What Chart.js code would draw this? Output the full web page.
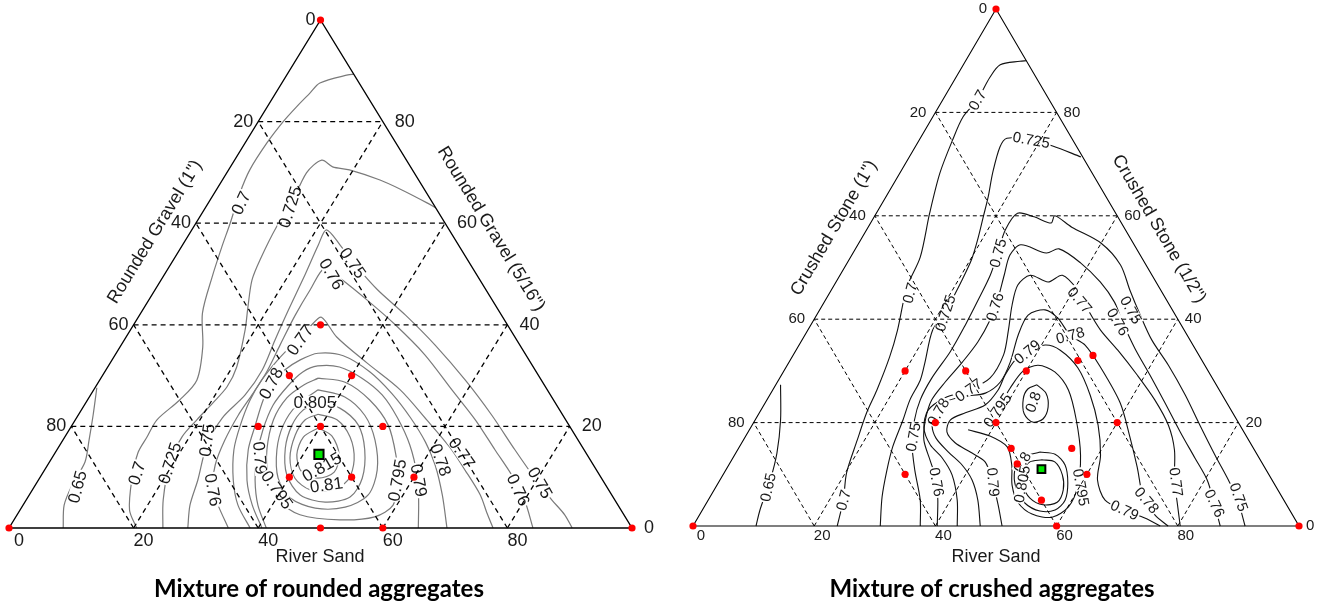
<!DOCTYPE html>
<html>
<head>
<meta charset="utf-8">
<script src="https://cdn.jsdelivr.net/npm/chart.js@4.4.0/dist/chart.umd.min.js"></script>
<style>
  html, body { margin: 0; padding: 0; background: #fff; }
  #wrap { position: relative; width: 1325px; height: 609px; overflow: hidden; }
  canvas { position: absolute; top: 0; }
</style>
</head>
<body>
<div id="wrap">
  <canvas id="rounded" width="662" height="609" style="left:0"></canvas>
  <canvas id="crushed" width="663" height="609" style="left:662px"></canvas>
</div>
<script>
// Ternary points are [River Sand %, top component %] (the third component is the rest)
const tickValues = [0, 20, 40, 60, 80];

// ---- Mixture of rounded aggregates ----
const roundedMixes = [[30, 40], [30, 30], [40, 30], [30, 20], [40, 20], [50, 20], [40, 10], [50, 10], [60, 10],
  [50, 0], [60, 0], [0, 100], [0, 0], [100, 0]];
const roundedOptimum = [[42.5, 14.5]];

const rounded065 = [[8.7, 0], [6.6, 4.5], [5.9, 8.5], [5.7, 13], [4.2, 17.3], [2.4, 22.2], [0.3, 27.6]];
const rounded070 = [[20.5, 0], [17.6, 3.5], [15, 9.4], [13.3, 14.8], [13.2, 17.9], [13.1, 21.3], [14.8, 25.2], [15.6, 29.1],
  [13.3, 35.6], [9.9, 42.3], [7.9, 49.4], [6.5, 55.3], [5.5, 60], [4.1, 65.9], [3.4, 70.5], [3.5, 75.8], [4, 79.9],
  [4.7, 82.9], [5.5, 85.6], [6.1, 87.6], [9.8, 89.2], [10.7, 89.3]];
const rounded0725 = [[24.7, 0], [22, 5.5], [19.4, 12.8], [18.8, 17.9], [19.5, 21.3], [20.4, 24.6], [21.1, 27.8], [20.7, 31.7],
  [18.4, 39], [16.6, 43.5], [14.6, 48.8], [13.9, 52.8], [13.3, 59.3], [13.5, 63.2], [12.8, 69.9], [14, 72.4], [16.4, 71.1],
  [19.4, 70.5], [25.3, 68.5], [29.9, 66.5], [35.1, 64], [37, 63]];
const rounded075 = [[28.7, 0], [26.8, 4.5], [25.6, 9.4], [23.6, 16.3], [23.4, 21.7], [24.8, 26.2], [25.1, 31.1], [24.2, 37],
  [23.4, 42.9], [22.6, 49.8], [21.8, 55.7], [21.6, 58.7], [25.3, 55.7], [30.4, 51.2], [35.7, 46.9], [42.7, 41.9],
  [50.4, 36], [58.7, 29.1], [66.4, 22.2], [73.5, 15.4], [79.5, 9.8], [84.4, 5.5], [87.9, 2.6], [90.4, 0]];
const rounded076 = [[35.2, 0], [31.3, 4.5], [29, 7.5], [26.9, 12.4], [26, 17.3], [25.7, 22.2], [25.9, 26.2], [26, 30.7],
  [25.5, 36], [25, 41.9], [24.9, 46.9], [25.1, 51.2], [28.5, 49.2], [35, 44.9], [42, 40], [49.7, 34.1], [57.5, 27.2],
  [64.2, 21.3], [70.3, 15.4], [75.5, 10.4], [80, 5.5], [84.1, 0]];
const rounded077 = [[38.7, 0], [34.5, 4.5], [31.3, 9.4], [28.4, 15.4], [27, 20.3], [26.1, 25.2], [26, 29.1], [26.6, 33.1],
  [27.4, 36], [28, 38], [28.6, 40], [29.4, 41.5], [33.8, 37.6], [41.2, 32.5], [49.2, 27.2], [56.4, 21.3], [62.8, 15.9],
  [67.5, 11.4], [72.4, 6.5], [75.2, 3], [77.7, 0]];
const rounded078 = [[40.6, 0], [36.8, 4.5], [33.5, 9.4], [30.7, 15.4], [29.4, 20.3], [28.2, 25.2], [27.9, 28.5], [28.7, 31.1],
  [30.2, 33.1], [32.4, 34.4], [36.7, 33.9], [42.6, 30.7], [48.3, 26.4], [53.6, 21.7], [58.4, 16.9], [62.2, 12.4],
  [66.3, 6.5], [70.3, 0]];
const rounded079 = [[41.3, 0], [37.7, 4.5], [34.8, 9.4], [32.6, 14.4], [31.1, 19.3], [30.3, 24.2], [30.8, 28], [31.8, 30.7],
  [33.6, 31.9], [37.2, 31.7], [41.9, 29.5], [46.8, 26.2], [51.5, 21.7], [56.2, 16.3], [60.3, 10.4], [63, 5.5], [65.7, 0]];
const rounded0795 = [[34.9, 29.5], [39.6, 28.7], [45.3, 25.2], [50.7, 20.3], [54.9, 14.4], [57.7, 9.4], [59.4, 4.5],
  [57.6, 2.2], [52.3, 1.6], [45.4, 2.6], [40.5, 5.5], [36.4, 10.4], [33.7, 15.4], [31.8, 21.3], [31.8, 25.6],
  [33.2, 28.1], [34.9, 29.5]];
const rounded080 = [[36, 27.2], [41, 25.8], [46, 22.2], [50.1, 17.3], [53.4, 11.4], [54.4, 6.5], [51.9, 4.1], [47.2, 3.9],
  [42.2, 5.9], [38.3, 9.8], [35.3, 15.4], [33.9, 20.3], [34.1, 24.2], [36, 27.2]];
const rounded0805 = [[37.2, 24.8], [41.3, 23.6], [45.9, 20.3], [49.4, 15.4], [51.8, 9.8], [51.7, 6.1], [48.2, 5.1],
  [43.5, 6.5], [39.4, 10.4], [36.5, 15.7], [35.3, 20.3], [35.6, 23.2], [37.2, 24.8]];
const rounded081 = [[38.4, 22.4], [42, 21.3], [45.8, 17.9], [48.7, 13.4], [49.7, 9.4], [47.8, 7.5], [44.6, 7.5], [41, 9.8],
  [38.2, 13.8], [36.8, 18.3], [36.9, 21.3], [38.4, 22.4]];
const rounded0815 = [[39.8, 19.7], [42.8, 18.1], [45.8, 14.4], [46.7, 11], [44.7, 9.8], [41.5, 11], [39, 14.4],
  [38.3, 17.9], [39.8, 19.7]];

// contour label: [text, sand, top, angle]
const roundedTags = [
  ['0.65', 6.9, 8.1, -75], ['0.7', 15.1, 10.8, -72], ['0.7', 5.2, 64, -65],
  ['0.725', 19.4, 12.8, -72], ['0.725', 13.5, 63.2, -72],
  ['0.75', 23.1, 17.3, -82], ['0.75', 29.1, 52.2, 55], ['0.75', 80.8, 8.9, 60],
  ['0.76', 29, 7.5, 80], ['0.76', 26.8, 50, 60], ['0.76', 78, 7.5, 65],
  ['0.77', 28.2, 37, -55], ['0.77', 65.3, 14.8, 55],
  ['0.78', 27.8, 28.5, -62], ['0.78', 62.6, 13.4, 70],
  ['0.79', 33.4, 13.8, 85], ['0.79', 61.1, 9.4, 80],
  ['0.795', 39.3, 7.5, 55], ['0.795', 57.6, 9.4, -80],
  ['0.805', 36.7, 24.8, 0], ['0.815', 44.2, 12, -30], ['0.81', 46.7, 8.5, -8]
];

// ---- Mixture of crushed aggregates ----
const crushedMixes = [[20, 30], [30, 30], [30, 20], [40, 20], [30, 10], [47.5, 32], [49.5, 33], [40, 30], [60, 20],
  [45, 15], [55, 15], [47.5, 12], [60, 10], [55, 5], [60, 0], [0, 100], [0, 0], [100, 0]];
const crushedOptimum = [[52, 11]];

const crushed065 = [[0.8, 27.3], [4.2, 20.5], [6.8, 14.1], [8.3, 8.9], [9.5, 3.1], [10.4, 0]];
const crushed070 = [[23.8, 0], [22.3, 5], [20.2, 10.3], [18.8, 16.6], [17.7, 21.9], [17.2, 26.3], [16.1, 32.7], [14.8, 37.9],
  [12.2, 46.2], [11.5, 52], [8.8, 60.5], [6.6, 68.3], [5.5, 74.7], [5, 79.1], [5.7, 82.4], [5.6, 86.8], [6.1, 89.2],
  [9, 89.9], [10, 90]];
const crushed0725 = [[30.9, 0], [28.4, 5.6], [26.6, 10.8], [25.3, 15.3], [24.4, 20.5], [23.6, 24.4], [23.4, 28.2],
  [22.5, 31.5], [20.6, 37.9], [21, 41.8], [20.8, 44.7], [20.6, 47.6], [20.2, 51.5], [19.3, 55.3], [18, 59.8],
  [16.9, 63.6], [15.3, 68.3], [14, 73.3], [14.3, 75], [18.2, 74.7], [22.6, 73.5], [28.3, 71.4]];
const crushed075 = [[37.5, 0], [35, 5], [31.2, 10.8], [28.3, 15.7], [26.3, 20.5], [25.3, 24.4], [25.1, 28.6], [25.6, 33.7],
  [25.5, 38.9], [25.2, 43.7], [24.8, 48.5], [23.9, 52.8], [22.9, 57.3], [23.3, 60.5], [26.4, 59.8], [29.8, 58.6],
  [29.7, 60], [33.6, 57.8], [40, 54.7], [45.3, 50.5], [49.3, 45.6], [53.4, 40.8], [57.7, 36], [62.9, 31.1],
  [68.6, 25.3], [73.9, 19.5], [79.3, 13.7], [83.9, 8.9], [87.4, 5], [91.1, 0]];
const crushed076 = [[40.3, 0], [37.9, 5], [35.7, 8.9], [32.7, 12.8], [29.8, 16.6], [28.1, 20.5], [27.2, 24.4], [27.7, 27.9],
  [28.6, 31.7], [29.2, 35.6], [29.1, 39.8], [28.4, 43.7], [27.1, 48.5], [26.1, 52.4], [26.9, 54.4], [31.9, 52.8],
  [33.6, 53.6], [38.5, 50.9], [43.6, 47.2], [47.9, 43.3], [51.1, 39.5], [55.7, 34.4], [60.8, 29.2], [66, 23.8],
  [71.3, 18.2], [76.2, 13.2], [80.4, 8.9], [83.8, 4.4], [87, 0]];
const crushed077 = [[43.6, 0], [41.1, 5], [37.8, 9.9], [34.5, 13.2], [31.3, 15.7], [28.6, 19], [27.6, 22.4], [29.2, 24.8],
  [32.3, 26.3], [34.7, 28.6], [34.7, 33.1], [33.1, 37.9], [31.3, 42.7], [30.3, 46.6], [31.4, 48.5], [35, 47.2],
  [36.7, 48.5], [40.7, 45.6], [44.3, 41.8], [48.3, 37.9], [53.1, 34], [58.7, 29.2], [64, 24.4], [68.7, 19.5],
  [72.1, 14.7], [75, 8.9], [77.9, 4.1], [80.4, 0]];
const crushed078 = [[47.4, 0], [44.5, 5], [41.6, 8.9], [38.5, 11.8], [35, 14.3], [31.6, 17], [29.7, 19.5], [28.9, 22.1],
  [29.6, 24], [32.4, 25.1], [35.4, 25.7], [36.8, 27.9], [36.5, 31.7], [35.2, 36.9], [34.9, 40.8], [37.2, 41.8],
  [40.1, 40.2], [43.8, 36.9], [47.2, 35], [51.8, 30.8], [58.6, 23.8], [63.5, 17.2], [67.6, 11.4], [71.5, 5.6],
  [75.2, 2.1], [78.4, 0]];
const crushed079 = [[51, 0], [48.3, 4.1], [44.9, 8.9], [42, 12.4], [38.6, 14.3], [35.2, 16.1], [32.8, 18.2], [32.2, 20.5],
  [34, 21.9], [36.5, 23.4], [37.2, 26.3], [36.9, 29.2], [37.1, 32.1], [38.3, 33.7], [40.6, 35], [43.6, 34],
  [48.2, 30.6], [52.9, 25.3], [57.1, 19.5], [60.4, 13.7], [62.3, 8.9], [65.5, 5], [69.5, 3.1], [73.9, 1.5], [77.1, 0]];
const crushed0795 = [[36.1, 18.6], [40.3, 17.4], [44.2, 15.3], [46.7, 11.8], [48.7, 7.9], [51.3, 4.6], [54.8, 2.3],
  [58.4, 1.7], [60.1, 3.7], [59.7, 7.5], [57.1, 13.7], [53, 20.5], [48.8, 26.3], [44.8, 29.8], [41.4, 31.1],
  [39.5, 30], [39, 26.7], [39, 23.4], [38.9, 20.9], [38.5, 19.5]];
const crushed080a = [[43.1, 27.3], [45.4, 25.7], [47.1, 23], [47.4, 20.7], [46, 20.1], [43.8, 21.7], [42.2, 24.6],
  [42, 26.5], [43.1, 27.3]];
const crushed080b = [[50.1, 14.3], [52.8, 13.9], [55.5, 11.8], [57.7, 8.3], [58.9, 5], [58.2, 3.1], [55.8, 2.9],
  [52.6, 4.4], [49.6, 7.4], [47.7, 10.8], [47.7, 13.2], [50.1, 14.3]];
const crushed0805 = [[51.2, 12.8], [53.5, 12.4], [56, 9.9], [57.6, 7], [57.8, 4.6], [55.7, 4.1], [52.9, 5.4], [50.5, 7.9],
  [49.2, 10.8], [49.4, 12.4], [51.2, 12.8]];

const crushedTags = [
  ['0.65', 8.6, 7.5, -78], ['0.7', 22.3, 5, -75], ['0.7', 13.2, 45.1, -75], ['0.7', 5.7, 82.4, -60],
  ['0.725', 21, 41.2, -72], ['0.725', 18.5, 74.7, 10],
  ['0.75', 23.9, 52.8, -75], ['0.75', 27.7, 17.2, -80], ['0.75', 51.4, 41.8, 60], ['0.75', 87.3, 5.6, 70],
  ['0.76', 28.6, 42.4, -72], ['0.76', 36, 8.5, 80], ['0.76', 50.4, 39.5, 60], ['0.76', 83.9, 4.4, 65],
  ['0.77', 32.3, 26.3, -35], ['0.77', 42, 43.7, 50], ['0.77', 75.5, 8.5, 82],
  ['0.78', 29.4, 22.1, -60], ['0.78', 43.8, 36.9, -15], ['0.78', 72.4, 5, 50],
  ['0.79', 45.3, 8.5, 85], ['0.79', 38.3, 33.7, -40], ['0.79', 69.7, 3.1, 25],
  ['0.795', 39, 22.4, -55], ['0.795', 60.3, 7.5, 80],
  ['0.8', 44.1, 24, -70], ['0.8', 48.1, 12.4, -60], ['0.805', 50.2, 8.1, -80]
];

// ternary -> cartesian in a 0..100 box (bottom-left, bottom-right, top)
function tern(p) {
  return { x: p[0] + p[1] / 2, y: p[1] };
}

function buildDatasets(contours, mixes, optimum, st) {
  const sets = [];
  contours.forEach(pts => {
    sets.push({
      data: pts.map(tern), showLine: true, borderColor: st.contourColor, borderWidth: st.contourWidth,
      pointRadius: 0, tension: 0.3, order: 5, clip: false
    });
  });
  // marker: contour labels are drawn right after the contours
  sets.push({ data: [], labelLayer: true, order: 4 });
  tickValues.filter(v => v > 0).forEach(v => {
    [[[0, v], [100 - v, v]], [[v, 0], [v, 100 - v]], [[100 - v, 0], [0, 100 - v]]].forEach(seg => {
      sets.push({
        data: seg.map(tern), showLine: true, borderColor: '#000', borderWidth: st.gridWidth,
        borderDash: st.dash, pointRadius: 0, order: 3, clip: false
      });
    });
  });
  sets.push({
    data: [[0, 0], [100, 0], [0, 100], [0, 0]].map(tern), showLine: true, borderColor: '#000',
    borderWidth: st.edgeWidth, pointRadius: 0, order: 3, clip: false
  });
  sets.push({
    data: mixes.map(tern), pointRadius: 3.6, pointBackgroundColor: '#ff0000', pointBorderWidth: 0,
    showLine: false, order: 2, clip: false
  });
  sets.push({
    data: optimum.map(tern), pointStyle: 'rect', pointRadius: st.squareR, pointBackgroundColor: '#00e600',
    pointBorderColor: '#000', pointBorderWidth: 2, showLine: false, order: 1, clip: false
  });
  return sets;
}

function decorPlugin(cfg) {
  return {
    id: 'ternaryDecor',
    afterDatasetDraw(chart, args) {
      if (!chart.data.datasets[args.index].labelLayer) return;
      const ctx = chart.ctx, xs = chart.scales.x, ys = chart.scales.y;
      ctx.save();
      ctx.font = cfg.labelSize + 'px "Liberation Sans", Arial, sans-serif';
      ctx.textAlign = 'center';
      ctx.textBaseline = 'middle';
      cfg.tags.forEach(([txt, s, t, ang]) => {
        const p = tern([s, t]);
        ctx.save();
        ctx.translate(xs.getPixelForValue(p.x), ys.getPixelForValue(p.y));
        ctx.rotate(ang * Math.PI / 180);
        const w = ctx.measureText(txt).width;
        ctx.fillStyle = '#fff';
        ctx.fillRect(-w / 2 - 1, -cfg.labelSize * 0.38, w + 2, cfg.labelSize * 0.76);
        ctx.fillStyle = '#1a1a1a';
        ctx.fillText(txt, 0, 1);
        ctx.restore();
      });
      ctx.restore();
    },
    afterDraw(chart) {
      const ctx = chart.ctx, xs = chart.scales.x, ys = chart.scales.y;
      const pix = p => { const q = tern(p); return [xs.getPixelForValue(q.x), ys.getPixelForValue(q.y)]; };
      ctx.save();
      ctx.fillStyle = '#1a1a1a';
      ctx.textBaseline = 'middle';
      ctx.font = cfg.tickSize + 'px "Liberation Sans", Arial, sans-serif';
      tickValues.forEach(v => {
        let [x, y] = pix([0, 100 - v]);
        ctx.textAlign = 'right';
        ctx.fillText(String(v), x + cfg.leftDx, y);
        [x, y] = pix([100 - v, v]);
        ctx.textAlign = 'left';
        ctx.fillText(String(v), x + cfg.rightDx, y);
        [x, y] = pix([v, 0]);
        ctx.textAlign = 'center';
        ctx.fillText(String(v), x + cfg.bottomDx, y + cfg.bottomDy);
      });
      ctx.font = cfg.titleSize + 'px "Liberation Sans", Arial, sans-serif';
      ctx.textAlign = 'center';
      cfg.axisTitles.forEach(([txt, x, y, ang]) => {
        ctx.save();
        ctx.translate(x, y);
        ctx.rotate(ang * Math.PI / 180);
        ctx.fillText(txt, 0, 0);
        ctx.restore();
      });
      ctx.fillStyle = '#000';
      ctx.font = 'bold 24px Lato, "Open Sans", sans-serif';
      ctx.fillText(cfg.title, cfg.titlePos[0], cfg.titlePos[1]);
      ctx.restore();
    }
  };
}

function makeChart(id, datasets, padding, decor) {
  return new Chart(document.getElementById(id), {
    type: 'scatter',
    data: { datasets: datasets },
    options: {
      responsive: false,
      animation: false,
      devicePixelRatio: 1,
      events: [],
      layout: { padding: padding },
      scales: {
        x: { type: 'linear', min: 0, max: 100, display: false },
        y: { type: 'linear', min: 0, max: 100, display: false }
      },
      plugins: { legend: { display: false }, tooltip: { enabled: false } }
    },
    plugins: [decorPlugin(decor)]
  });
}

makeChart('rounded',
  buildDatasets([rounded065, rounded070, rounded0725, rounded075, rounded076, rounded077, rounded078, rounded079,
    rounded0795, rounded080, rounded0805, rounded081, rounded0815], roundedMixes, roundedOptimum,
    { contourColor: '#7a7a7a', contourWidth: 1.2, gridWidth: 1.3, dash: [5, 4], edgeWidth: 1.4, squareR: 6.5 }),
  { left: 9, right: 30, top: 20, bottom: 81 },
  {
    tags: roundedTags, labelSize: 17, tickSize: 18, titleSize: 18,
    leftDx: -5, rightDx: 12, bottomDx: 10, bottomDy: 13,
    axisTitles: [['Rounded Gravel (1")', 155, 232, -58.5], ['Rounded Gravel (5/16")', 491, 229, 58.5],
      ['River Sand', 320, 557, 0]],
    title: 'Mixture of rounded aggregates', titlePos: [319, 589]
  });

makeChart('crushed',
  buildDatasets([crushed065, crushed070, crushed0725, crushed075, crushed076, crushed077, crushed078, crushed079,
    crushed0795, crushed080a, crushed080b, crushed0805], crushedMixes, crushedOptimum,
    { contourColor: '#111', contourWidth: 1.1, gridWidth: 1, dash: [4, 3], edgeWidth: 1.1, squareR: 5.5 }),
  { left: 31, right: 26, top: 9, bottom: 83 },
  {
    tags: crushedTags, labelSize: 15, tickSize: 15, titleSize: 18,
    leftDx: -9, rightDx: 7, bottomDx: 8, bottomDy: 10,
    axisTitles: [['Crushed Stone (1")', 172, 228, -59.6], ['Crushed Stone (1/2")', 497, 229, 59.6],
      ['River Sand', 334, 557, 0]],
    title: 'Mixture of crushed aggregates', titlePos: [330, 589]
  });
</script>
</body>
</html>
